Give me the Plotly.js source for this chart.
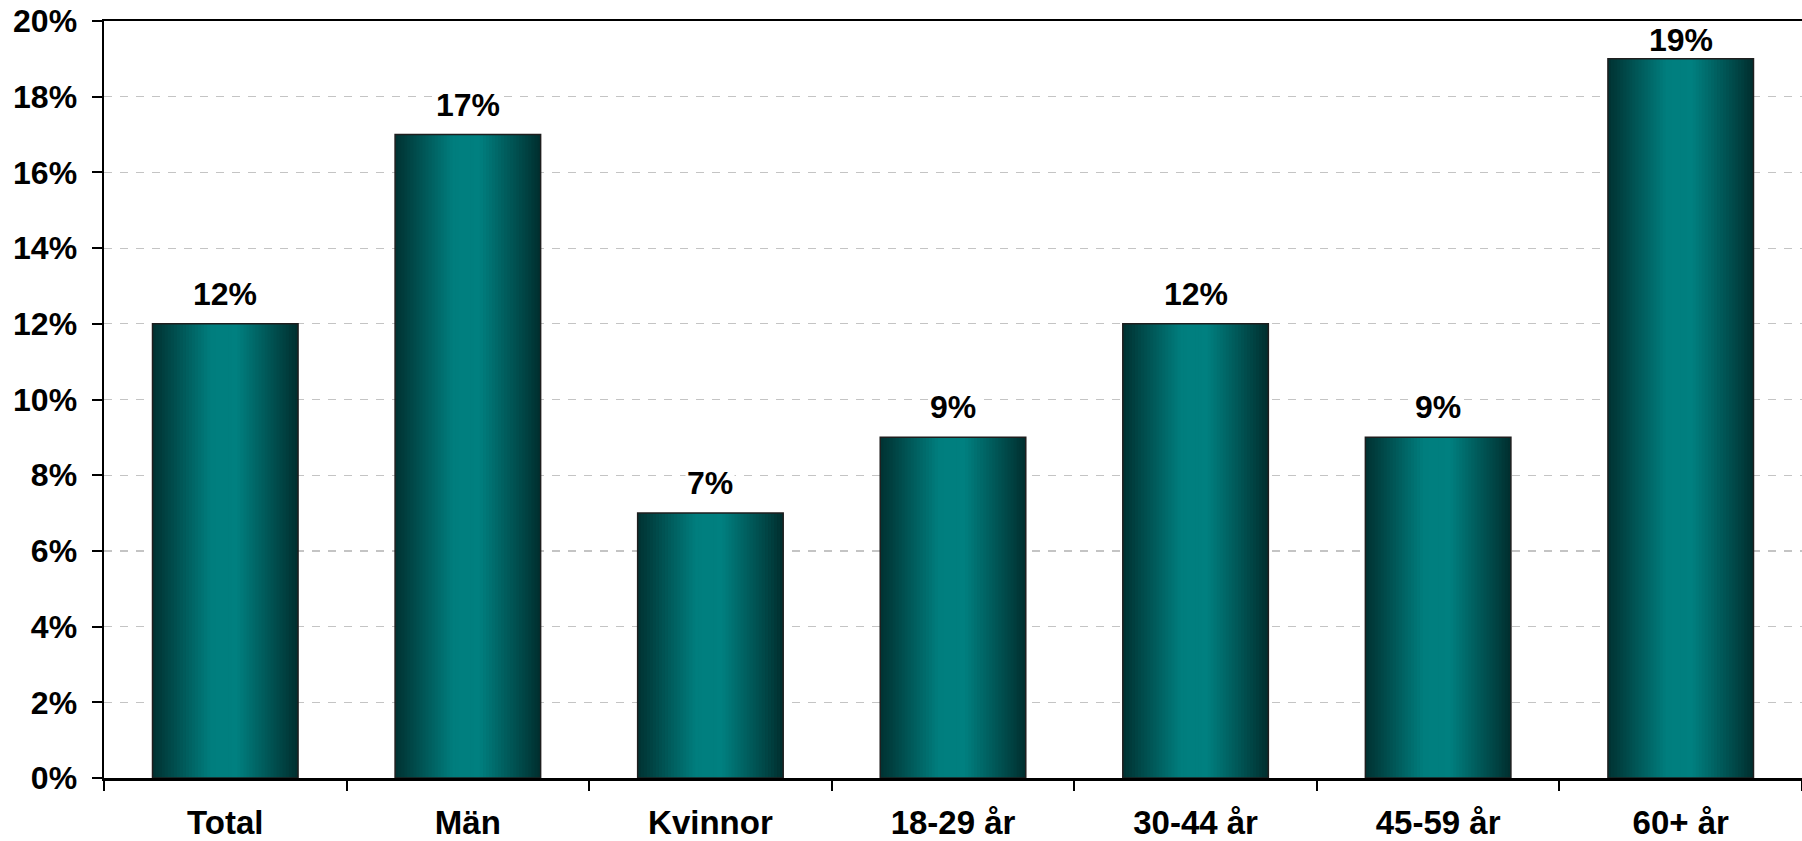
<!DOCTYPE html>
<html>
<head>
<meta charset="utf-8">
<script src="https://cdn.plot.ly/plotly-3.0.1.min.js"></script>
<style>html,body{margin:0;padding:0;background:#fff;}#chart{width:1802px;height:841px;}</style>
</head>
<body>
<div id="chart"></div>
<script>
// Data
const categories = ["Total", "Män", "Kvinnor", "18-29 år", "30-44 år", "45-59 år", "60+ år"];
const values = [12, 17, 7, 9, 12, 9, 19];
const yTickValues = [0, 2, 4, 6, 8, 10, 12, 14, 16, 18, 20];

// Gradient stops across the bar width (fraction -> rgb)
const gradStops = [
  [0.00, [0, 50, 50]],
  [0.10, [0, 68, 68]],
  [0.40, [0, 126, 126]],
  [0.58, [0, 128, 128]],
  [0.88, [0, 70, 70]],
  [1.00, [0, 46, 46]]
];
function gradColor(t) {
  for (let i = 0; i < gradStops.length - 1; i++) {
    const [t0, c0] = gradStops[i], [t1, c1] = gradStops[i + 1];
    if (t >= t0 && t <= t1) {
      const f = (t - t0) / (t1 - t0);
      const c = c0.map((v, k) => Math.round(v + (c1[k] - v) * f));
      return `rgb(${c[0]},${c[1]},${c[2]})`;
    }
  }
  const c = gradStops[gradStops.length - 1][1];
  return `rgb(${c[0]},${c[1]},${c[2]})`;
}

const barWidth = 0.6;
const N = 48;
const sliceW = barWidth / N;
const traces = [];
for (let i = 0; i < N; i++) {
  const w = (i === N - 1) ? sliceW : sliceW * 1.6;
  traces.push({
    type: 'bar',
    x: categories,
    y: values,
    width: categories.map(() => w),
    offset: categories.map(() => -barWidth / 2 + i * sliceW),
    marker: { color: gradColor((i + 0.5) / N), line: { width: 0 } },
    hoverinfo: 'skip',
    showlegend: false
  });
}
// outline
traces.push({
  type: 'bar',
  x: categories,
  y: values,
  width: categories.map(() => barWidth),
  marker: { color: 'rgba(0,0,0,0)', line: { color: '#1e1e1e', width: 1.5 } },
  showlegend: false,
  hovertemplate: '%{x}: %{y}%<extra></extra>'
});

const W = 1802, H = 841;
const margin = { l: 104, r: 0, t: 21, b: 63, pad: 0 };
const yMax = 20;
const plotH = H - margin.t - margin.b;
const fontFam = '"Liberation Sans", Arial, Helvetica, sans-serif';
const annotations = categories.map((c, i) => {
  // keep labels inside the plot area (like the original), otherwise sit above bar
  const availPx = (yMax - values[i]) / yMax * plotH;
  const shift = Math.min(10, availPx - 39);
  return {
    x: c, y: values[i], xref: 'x', yref: 'y',
    text: values[i] + '%',
    showarrow: false,
    yanchor: 'bottom',
    yshift: shift,
    bgcolor: shift < 10 ? 'rgba(0,0,0,0)' : '#ffffff',
    borderpad: 1,
    font: { family: fontFam, size: 32, color: '#000', weight: 'bold' }
  };
});

const layout = {
  width: W, height: H,
  margin: margin,
  paper_bgcolor: '#fff', plot_bgcolor: '#fff',
  barmode: 'overlay',
  showlegend: false,
  xaxis: {
    type: 'category',
    categoryorder: 'array', categoryarray: categories,
    showline: true, linecolor: '#000', linewidth: 2.5, mirror: true,
    ticks: 'outside', tickson: 'boundaries', ticklen: 10, tickwidth: 2, tickcolor: '#000',
    ticklabelstandoff: 14,
    showgrid: false, zeroline: false,
    tickfont: { family: fontFam, size: 33, color: '#000', weight: 'bold' }
  },
  yaxis: {
    range: [0, yMax],
    tickvals: yTickValues,
    ticktext: yTickValues.map(v => v + '%'),
    showline: true, linecolor: '#000', linewidth: 2.5,
    ticks: 'outside', ticklen: 10, tickwidth: 2, tickcolor: '#000',
    ticklabelstandoff: 8,
    showgrid: true, gridcolor: '#c4c4c4', gridwidth: 1.2, griddash: '8px,8px',
    zeroline: false,
    tickfont: { family: fontFam, size: 32, color: '#000', weight: 'bold' }
  },
  annotations: annotations
};

Plotly.newPlot('chart', traces, layout, { displayModeBar: false, staticPlot: true });
</script>
</body>
</html>
